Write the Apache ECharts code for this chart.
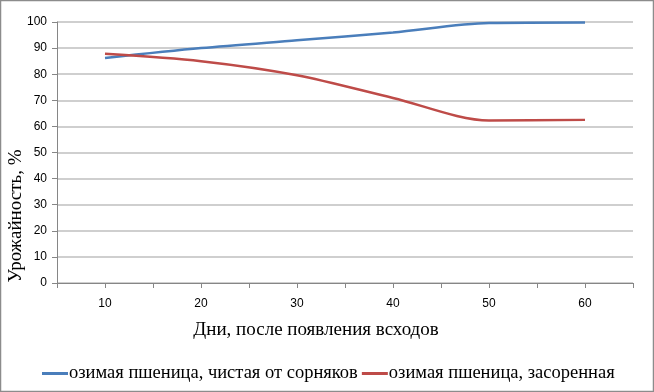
<!DOCTYPE html>
<html>
	<head>
		<meta charset="UTF-8">
		<title></title>
		<script src="https://cdn.jsdelivr.net/npm/echarts@6/dist/echarts.min.js" type="text/javascript" charset="utf-8"></script>
		<style>
			html, body {margin: 0; padding: 0; background: #fff;}
		</style>
	</head>
	<body>
		<div id="chart" style="width: 654px;height: 392px;"></div>
		<script type="text/javascript">
			var days = [10, 20, 30, 40, 50, 60];
			var clean = [86.2, 90, 93, 96, 99.6, 99.8];
			var weedy = [87.8, 85, 79.6, 70.9, 62.3, 62.5];
			var names = ['озимая пшеница, чистая от сорняков', 'озимая пшеница, засоренная'];
			var colors = ['#4a7ebb', '#be4b48'];

			function pairs(vals) {
				return days.map((d, i) => [d, vals[i]]);
			}

			var serif = '"Liberation Serif", "DejaVu Serif", serif';
			var sans = '"Liberation Sans", "DejaVu Sans", sans-serif';

			var chart = echarts.init(document.getElementById('chart'));
			var option = {
				animation: false,
				color: colors,
				grid: {left: 57, right: 21, top: 22, bottom: 109, outerBoundsMode: 'none', containLabel: false},
				graphic: [
					{
						type: 'rect',
						shape: {x: 0.5, y: 0.5, width: 653, height: 391},
						style: {fill: 'none', stroke: '#8c8c8c', lineWidth: 1.5}
					},
					{
						// подпись оси Y (в оригинале смещена вниз)
						type: 'text',
						x: 16,
						y: 216,
						rotation: Math.PI / 2,
						style: {
							text: 'Урожайность, %',
							font: '19px ' + serif,
							fill: '#000',
							align: 'center',
							verticalAlign: 'middle'
						}
					}
				],
				legend: {
					bottom: 4,
					left: 37,
					itemGap: 4,
					itemWidth: 26,
					itemHeight: 3,
					icon: 'rect',
					textStyle: {fontFamily: serif, fontSize: 18.5, color: '#000', padding: [0, 0, 0, -4]},
					data: names
				},
				xAxis: {
					type: 'value',
					min: 5,
					max: 65,
					interval: 5,
					name: 'Дни, после появления всходов',
					nameLocation: 'middle',
					nameGap: 38,
					nameTextStyle: {fontFamily: serif, fontSize: 19, color: '#000', padding: [0, 58, 0, 0]},
					axisLine: {lineStyle: {color: '#868686'}},
					axisTick: {show: true, length: 5, lineStyle: {color: '#868686'}},
					splitLine: {show: false},
					axisLabel: {
						margin: 15,
						fontFamily: sans,
						fontSize: 12,
						color: '#000',
						formatter: function (v) { return v % 10 === 0 ? v : ''; }
					}
				},
				yAxis: {
					type: 'value',
					min: 0,
					max: 100,
					interval: 10,
					axisLine: {show: true, lineStyle: {color: '#868686'}},
					axisTick: {show: true, length: 5, lineStyle: {color: '#868686'}},
					splitLine: {lineStyle: {color: '#bfbfbf', width: 1.5}},
					axisLabel: {margin: 10, fontFamily: sans, fontSize: 12, color: '#000'}
				},
				series: [
					{
						name: names[0],
						type: 'line',
						smooth: 0.3,
						symbol: 'none',
						lineStyle: {width: 2.5},
						data: pairs(clean)
					},
					{
						name: names[1],
						type: 'line',
						smooth: 0.3,
						symbol: 'none',
						lineStyle: {width: 2.5},
						data: pairs(weedy)
					}
				]
			};
			chart.setOption(option, true);
		</script>
	</body>
</html>
